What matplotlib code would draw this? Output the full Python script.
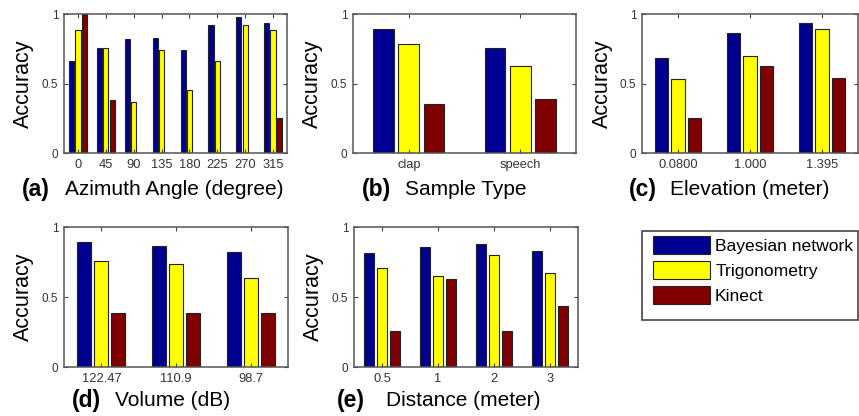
import numpy as np
import matplotlib
matplotlib.use("Agg")
import matplotlib.pyplot as plt
from matplotlib.patches import Rectangle

plt.rcParams['font.family'] = ['Liberation Sans', 'DejaVu Sans']

series_names = ["Bayesian network", "Trigonometry", "Kinect"]
colors = ["#000090", "#FFFF00", "#800000"]

az_cats = ["0", "45", "90", "135", "180", "225", "270", "315"]
az_bayes = [0.66, 0.757, 0.817, 0.825, 0.74, 0.92, 0.978, 0.935]
az_trig = [0.882, 0.757, 0.365, 0.74, 0.45, 0.66, 0.92, 0.882]
az_kinect = [1.0, 0.382, np.nan, np.nan, np.nan, np.nan, np.nan, 0.25]

st_cats = ["clap", "speech"]
st_bayes = [0.894, 0.757]
st_trig = [0.781, 0.623]
st_kinect = [0.351, 0.385]

el_cats = ["0.0800", "1.000", "1.395"]
el_bayes = [0.685, 0.861, 0.935]
el_trig = [0.534, 0.697, 0.889]
el_kinect = [0.25, 0.625, 0.543]

vol_cats = ["122.47", "110.9", "98.7"]
vol_bayes = [0.89, 0.862, 0.819]
vol_trig = [0.757, 0.738, 0.633]
vol_kinect = [0.386, 0.386, 0.386]

di_cats = ["0.5", "1", "2", "3"]
di_bayes = [0.812, 0.855, 0.879, 0.831]
di_trig = [0.707, 0.648, 0.802, 0.671]
di_kinect = [0.255, 0.629, 0.255, 0.438]

W, H = 859, 416
fig = plt.figure(figsize=(W / 100, H / 100), dpi=100)


def px_axes(x0, y0, x1, y1):
    return fig.add_axes([x0 / W, 1 - y1 / H, (x1 - x0) / W, (y1 - y0) / H])


def panel(ax, cats, data, letter, label, lx_letter, lx_label, ly):
    n = len(cats)
    x = np.arange(n)
    offs = [-0.228, 0.0, 0.228]
    bars = []
    for vals, off, c, name in zip(data, offs, colors, series_names):
        b = ax.bar(x + off, vals, width=0.185, color=c, edgecolor="#222222",
                   linewidth=0.8, label=name)
        bars.append(b)
    ax.set_xlim(-0.5, n - 0.5)
    ax.set_ylim(0, 1)
    ax.set_yticks([0, 0.5, 1])
    ax.set_yticklabels(["0", "0.5", "1"])
    ax.set_xticks(x)
    ax.set_xticklabels(cats)
    ax.tick_params(direction="in", length=3, width=0.8, top=True, right=True,
                   labelcolor="#333333", color="#444444", pad=4)
    ax.tick_params(axis="y", labelsize=8.5)
    ax.tick_params(axis="x", labelsize=9.3)
    for s in ax.spines.values():
        s.set_color("#555555")
        s.set_linewidth(1.1)
    ax.set_ylabel("Accuracy", fontsize=15.5)
    ax.yaxis.set_label_coords(-0.134, 0.5)
    fig.text(lx_letter / W, 1 - ly / H, letter, fontsize=16.5, fontweight="bold",
             ha="left", va="center")
    fig.text(lx_label / W, 1 - ly / H, label, fontsize=15, ha="left", va="center")
    return bars


ax_a = px_axes(64, 14, 287, 153)
bars = panel(ax_a, az_cats, [az_bayes, az_trig, az_kinect], "(a)",
             "Azimuth Angle (degree)", 22, 65, 189)

ax_b = px_axes(353, 14, 576, 153)
panel(ax_b, st_cats, [st_bayes, st_trig, st_kinect], "(b)", "Sample Type",
      362, 405, 189)

ax_c = px_axes(642, 14, 858, 153)
panel(ax_c, el_cats, [el_bayes, el_trig, el_kinect], "(c)",
      "Elevation (meter)", 629, 670, 189)

ax_d = px_axes(64, 227, 288, 367)
panel(ax_d, vol_cats, [vol_bayes, vol_trig, vol_kinect], "(d)", "Volume (dB)",
      72, 115, 401)

ax_e = px_axes(354, 227, 578, 367)
panel(ax_e, di_cats, [di_bayes, di_trig, di_kinect], "(e)",
      "Distance (meter)", 337, 386, 401)

# legend frame
fig.patches.append(Rectangle((642 / W, 1 - 320 / H), 216 / W, 89 / H,
                             transform=fig.transFigure, facecolor="white",
                             edgecolor="#444444", linewidth=1.2, zorder=0))
leg = fig.legend(handles=bars, labels=series_names, loc="upper left",
                 bbox_to_anchor=(653 / W, 1 - 236 / H),
                 fontsize=12.6, frameon=False, borderaxespad=0, borderpad=0,
                 handlelength=3.25, handleheight=1.2, labelspacing=0.4,
                 handletextpad=0.3)

fig.savefig("out.png", dpi=100)
